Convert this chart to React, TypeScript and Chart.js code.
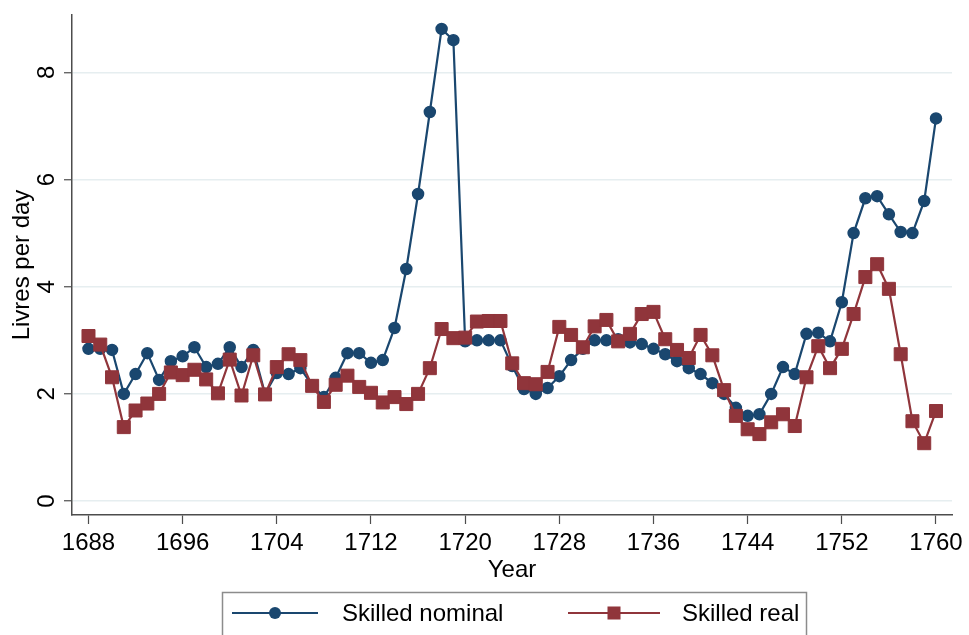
import React, { useEffect, useRef } from "react";
import { Chart, registerables } from "chart.js";

Chart.register(...registerables);

// Years of observation
const years = [
  1688, 1689, 1690, 1691, 1692, 1693, 1694, 1695, 1696, 1697,
  1698, 1699, 1700, 1701, 1702, 1703, 1704, 1705, 1706, 1707,
  1708, 1709, 1710, 1711, 1712, 1713, 1714, 1715, 1716, 1717,
  1718, 1719, 1720, 1721, 1722, 1723, 1724, 1725, 1726, 1727,
  1728, 1729, 1730, 1731, 1732, 1733, 1734, 1735, 1736, 1737,
  1738, 1739, 1740, 1741, 1742, 1743, 1744, 1745, 1746, 1747,
  1748, 1749, 1750, 1751, 1752, 1753, 1754, 1755, 1756, 1757,
  1758, 1759, 1760,
];

// Skilled daily wage, nominal livres
const skilledNominal = [
  2.84, 2.84, 2.82, 2.0, 2.37, 2.76, 2.26, 2.61, 2.7, 2.87,
  2.5, 2.56, 2.87, 2.5, 2.82, 2.0, 2.39, 2.37, 2.48, 2.16,
  1.94, 2.3, 2.76, 2.76, 2.58, 2.63, 3.23, 4.33, 5.73, 7.26,
  8.81, 8.6, 2.98, 3.0, 3.0, 3.0, 2.52, 2.09, 2.0, 2.11,
  2.33, 2.63, 2.84, 3.0, 3.0, 3.02, 2.96, 2.93, 2.84, 2.74,
  2.61, 2.48, 2.37, 2.2, 2.0, 1.74, 1.59, 1.62, 2.0, 2.5,
  2.37, 3.12, 3.14, 2.98, 3.71, 5.0, 5.65, 5.69, 5.35, 5.02,
  5.0, 5.6, 7.14,
];

// Skilled daily wage, real livres
const skilledReal = [
  3.08, 2.92, 2.31, 1.38, 1.69, 1.82, 2.0, 2.4, 2.35, 2.45,
  2.27, 2.01, 2.64, 1.97, 2.72, 1.99, 2.5, 2.74, 2.63, 2.15,
  1.85, 2.17, 2.34, 2.13, 2.02, 1.84, 1.94, 1.81, 2.0, 2.48,
  3.21, 3.04, 3.05, 3.35, 3.36, 3.36, 2.57, 2.2, 2.18, 2.41,
  3.25, 3.1, 2.87, 3.26, 3.38, 2.98, 3.12, 3.49, 3.53, 3.02,
  2.82, 2.67, 3.1, 2.72, 2.07, 1.59, 1.34, 1.25, 1.47, 1.62,
  1.4, 2.31, 2.89, 2.48, 2.84, 3.49, 4.18, 4.42, 3.96, 2.74,
  1.49, 1.08, 1.68,
];

const xTicks = [1688, 1696, 1704, 1712, 1720, 1728, 1736, 1744, 1752, 1760];
const yTicks = [0, 2, 4, 6, 8];
const seriesLabels = ["Skilled nominal", "Skilled real"];

const NAVY = "#1a476f";
const MAROON = "#90353b";
const AXIS = "#4d4d4d";
const GRID = "#e6eef0";
const FONT = "'Liberation Sans', Arial, Helvetica, sans-serif";

// Rotated y tick labels (reading bottom-to-top) and the boxed legend
const stataDecor = {
  id: "stataDecor",
  afterDraw(chart: any) {
    const ctx = chart.ctx;
    const y = chart.scales.y;

    ctx.save();
    ctx.fillStyle = "#000";
    ctx.font = `24px ${FONT}`;
    ctx.textAlign = "center";
    ctx.textBaseline = "middle";
    for (const v of yTicks) {
      const py = y.getPixelForValue(v);
      ctx.save();
      ctx.translate(46, py);
      ctx.rotate(-Math.PI / 2);
      ctx.fillText(String(v), 0, 1);
      ctx.restore();
    }
    ctx.restore();

    // legend box
    ctx.save();
    ctx.strokeStyle = "#8c8c8c";
    ctx.lineWidth = 1.5;
    ctx.strokeRect(222.5, 592.5, 584, 60);

    const rowY = 613;
    const items = [
      { x0: 232, x1: 318, text: 342, ds: chart.data.datasets[0] },
      { x0: 568, x1: 660, text: 682, ds: chart.data.datasets[1] },
    ];
    items.forEach((it, i) => {
      const ds = it.ds;
      ctx.strokeStyle = ds.borderColor;
      ctx.lineWidth = 2.2;
      ctx.beginPath();
      ctx.moveTo(it.x0, rowY);
      ctx.lineTo(it.x1, rowY);
      ctx.stroke();
      const cx = (it.x0 + it.x1) / 2;
      ctx.fillStyle = ds.pointBackgroundColor;
      if (ds.pointStyle === "rect") {
        const s = ds.pointRadius * Math.SQRT1_2;
        ctx.fillRect(cx - s, rowY - s, 2 * s, 2 * s);
      } else {
        ctx.beginPath();
        ctx.arc(cx, rowY, ds.pointRadius + 0.5, 0, Math.PI * 2);
        ctx.fill();
      }
      ctx.fillStyle = "#000";
      ctx.font = `24px ${FONT}`;
      ctx.textAlign = "left";
      ctx.textBaseline = "middle";
      ctx.fillText(seriesLabels[i], it.text, rowY + 1);
    });
    ctx.restore();
  },
};

export default function App() {
  const canvasRef = useRef<HTMLCanvasElement | null>(null);

  useEffect(() => {
    if (!canvasRef.current) return;
    const chart = new Chart(canvasRef.current, {
      type: "line",
      data: {
        datasets: [
          {
            label: seriesLabels[0],
            data: years.map((yr, i) => ({ x: yr, y: skilledNominal[i] })),
            borderColor: NAVY,
            backgroundColor: NAVY,
            pointBackgroundColor: NAVY,
            pointBorderColor: NAVY,
            pointStyle: "circle",
            pointRadius: 5.5,
            pointBorderWidth: 1.5,
            borderWidth: 2.2,
            tension: 0,
            order: 1,
          },
          {
            label: seriesLabels[1],
            data: years.map((yr, i) => ({ x: yr, y: skilledReal[i] })),
            borderColor: MAROON,
            backgroundColor: MAROON,
            pointBackgroundColor: MAROON,
            pointBorderColor: MAROON,
            pointStyle: "rect",
            pointRadius: 9.2,
            pointBorderWidth: 1,
            borderWidth: 2.2,
            tension: 0,
            order: 0,
          },
        ],
      },
      options: {
        responsive: false,
        animation: false,
        layout: { padding: { left: 0, top: 15, right: 17, bottom: 50 } },
        plugins: {
          legend: { display: false },
          tooltip: { enabled: false },
        },
        scales: {
          x: {
            type: "linear",
            min: 1686.6,
            max: 1761.36,
            afterBuildTicks: (s: any) => {
              s.ticks = xTicks.map((v) => ({ value: v }));
            },
            afterFit: (s: any) => {
              s.height = 70;
            },
            grid: {
              drawOnChartArea: false,
              drawTicks: true,
              tickLength: 9,
              tickColor: AXIS,
              tickWidth: 1.2,
            },
            border: { display: true, color: AXIS, width: 1.5 },
            ticks: {
              color: "#000",
              font: { family: FONT, size: 24 },
              padding: 5,
              maxRotation: 0,
              minRotation: 0,
              autoSkip: false,
              callback: (v: any) => String(v),
            },
            title: {
              display: true,
              text: "Year",
              color: "#000",
              font: { family: FONT, size: 24 },
              padding: { top: 0, bottom: 0 },
            },
          },
          y: {
            type: "linear",
            min: -0.26,
            max: 9.07,
            afterBuildTicks: (s: any) => {
              s.ticks = yTicks.map((v) => ({ value: v }));
            },
            afterFit: (s: any) => {
              s.width = 72;
            },
            grid: {
              color: GRID,
              lineWidth: 1.5,
              drawTicks: true,
              tickLength: 8,
              tickColor: AXIS,
              tickWidth: 1.2,
            },
            border: { display: true, color: AXIS, width: 1.5 },
            ticks: { display: false },
            title: {
              display: true,
              text: "Livres per day",
              color: "#000",
              font: { family: FONT, size: 24 },
              padding: { top: 8, bottom: 0 },
            },
          },
        },
      },
      plugins: [stataDecor],
    });
    return () => chart.destroy();
  }, []);

  return (
    <div style={{ position: "absolute", left: 0, top: 0, width: 969, height: 635, background: "#fff" }}>
      <canvas ref={canvasRef} width={969} height={635} style={{ display: "block" }} />
    </div>
  );
}
